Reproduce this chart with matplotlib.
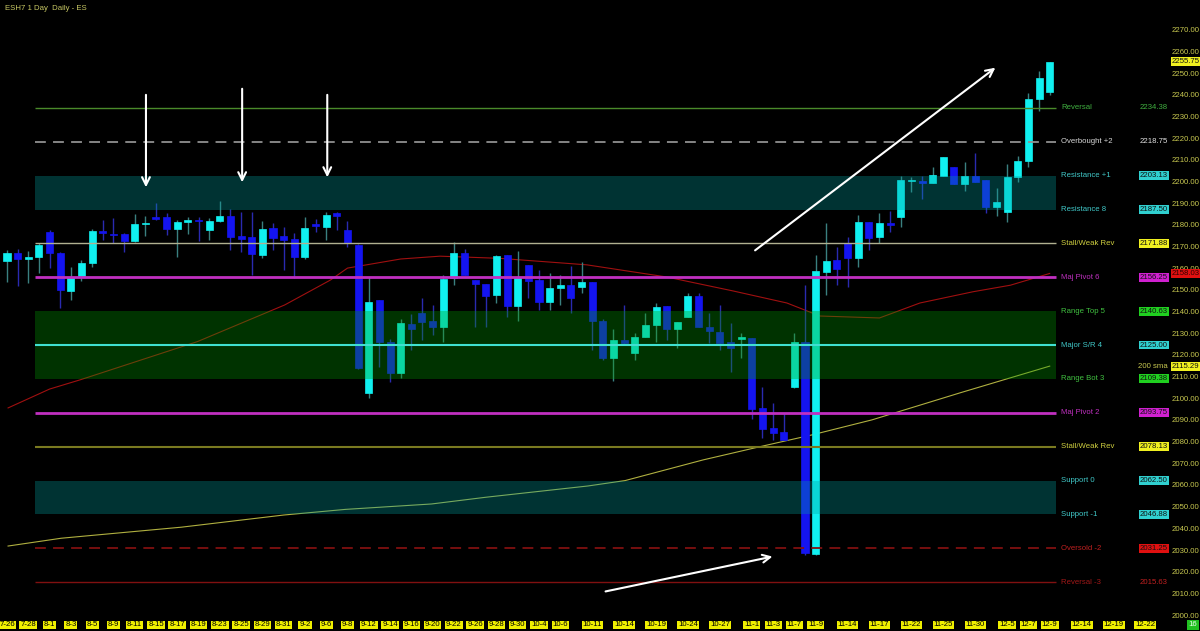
import matplotlib
matplotlib.use("Agg")
import matplotlib.pyplot as plt

plt.rcParams['font.family'] = ['Liberation Sans', 'DejaVu Sans']

# daily candles, ESH7, one row per trading day (index 0 = 7-26)
opens = [2163.9, 2167.3, 2164.5, 2165.5, 2177.3, 2167.6, 2150.1, 2156.9, 2163.0, 2177.6,
         2176.2, 2176.2, 2173.0, 2180.7, 2184.0, 2183.9, 2178.4, 2181.9, 2182.7, 2178.1,
         2182.2, 2184.5, 2175.3, 2174.7, 2166.5, 2178.8, 2175.3, 2173.8, 2165.5, 2180.9,
         2179.6, 2185.8, 2178.1, 2171.2, 2102.7, 2145.8, 2126.6, 2112.0, 2134.7, 2139.6,
         2136.3, 2133.5, 2155.8, 2167.6, 2155.0, 2153.2, 2148.1, 2166.5, 2143.0, 2161.9,
         2155.0, 2145.0, 2151.3, 2152.6, 2151.9, 2154.2, 2136.3, 2118.9, 2127.3, 2121.5,
         2128.9, 2134.3, 2143.0, 2132.2, 2137.8, 2147.6, 2133.5, 2131.2, 2126.6, 2127.7,
         2128.1, 2095.8, 2086.6, 2085.0, 2105.5, 2126.6, 2028.5, 2158.8, 2164.2, 2171.9,
         2165.0, 2181.9, 2174.7, 2181.5, 2184.2, 2200.8, 2200.5, 2199.6, 2203.0, 2207.3,
         2199.3, 2203.0, 2201.1, 2188.5, 2186.5, 2202.7, 2210.0, 2238.3, 2241.9]
highs = [2168.8, 2169.2, 2168.5, 2172.0, 2178.0, 2168.0, 2160.9, 2164.2, 2178.4, 2182.7,
         2183.5, 2176.5, 2185.5, 2184.5, 2190.7, 2185.8, 2182.7, 2184.2, 2184.2, 2183.5,
         2191.6, 2187.6, 2186.5, 2186.5, 2182.4, 2181.1, 2179.6, 2176.5, 2183.9, 2183.0,
         2186.5, 2186.5, 2182.4, 2171.5, 2156.5, 2146.0, 2128.0, 2137.0, 2139.3, 2146.6,
         2143.5, 2157.3, 2172.7, 2169.2, 2155.0, 2153.2, 2166.5, 2166.5, 2168.5, 2161.9,
         2159.6, 2158.1, 2157.3, 2161.4, 2163.5, 2154.2, 2137.0, 2132.2, 2143.5, 2130.4,
         2139.6, 2144.6, 2143.0, 2135.8, 2148.9, 2148.9, 2139.6, 2143.5, 2135.0, 2130.4,
         2128.1, 2105.8, 2098.4, 2093.5, 2130.7, 2152.7, 2166.5, 2181.1, 2170.4, 2175.0,
         2185.0, 2181.9, 2185.8, 2187.0, 2203.0, 2202.7, 2203.0, 2207.3, 2211.6, 2207.3,
         2209.6, 2213.7, 2201.1, 2197.3, 2208.5, 2212.2, 2241.1, 2251.6, 2255.75]
lows = [2154.2, 2152.2, 2153.8, 2158.1, 2160.4, 2141.9, 2145.8, 2154.7, 2160.9, 2173.5,
        2172.2, 2168.1, 2172.7, 2175.3, 2182.9, 2175.8, 2165.8, 2176.2, 2173.1, 2173.5,
        2181.8, 2168.8, 2168.1, 2157.3, 2165.0, 2168.8, 2159.6, 2155.8, 2164.5, 2177.3,
        2173.5, 2178.0, 2170.1, 2114.0, 2100.4, 2115.0, 2108.0, 2110.0, 2122.7, 2127.3,
        2129.6, 2126.6, 2152.7, 2157.3, 2133.5, 2133.5, 2144.2, 2138.1, 2136.3, 2146.6,
        2141.2, 2141.2, 2143.5, 2139.6, 2148.9, 2122.7, 2118.0, 2108.6, 2125.5, 2118.1,
        2128.9, 2126.6, 2127.3, 2123.5, 2137.8, 2133.2, 2125.8, 2122.7, 2112.7, 2118.9,
        2091.0, 2082.0, 2081.2, 2081.2, 2105.0, 2028.2, 2028.2, 2148.1, 2152.7, 2151.9,
        2161.2, 2168.8, 2171.9, 2177.3, 2179.3, 2195.7, 2192.2, 2199.6, 2203.0, 2199.3,
        2196.2, 2200.4, 2185.8, 2184.5, 2181.9, 2200.4, 2207.0, 2233.1, 2240.3]
closes = [2167.3, 2164.5, 2165.5, 2171.2, 2167.3, 2150.4, 2156.2, 2163.0, 2177.6, 2176.5,
          2175.6, 2173.0, 2180.7, 2181.5, 2183.0, 2178.4, 2181.8, 2182.7, 2182.2, 2182.4,
          2184.5, 2175.0, 2174.1, 2167.0, 2178.5, 2174.5, 2173.5, 2165.5, 2179.2, 2180.0,
          2185.0, 2184.5, 2172.2, 2114.3, 2145.0, 2126.6, 2112.0, 2135.0, 2132.2, 2135.8,
          2133.2, 2155.5, 2167.6, 2157.3, 2153.2, 2147.6, 2166.1, 2143.0, 2156.2, 2154.7,
          2145.0, 2151.3, 2152.6, 2146.6, 2154.2, 2136.3, 2118.9, 2127.3, 2126.1, 2128.9,
          2134.3, 2142.7, 2132.2, 2135.8, 2147.6, 2133.2, 2131.4, 2126.1, 2123.5, 2128.9,
          2095.4, 2086.1, 2084.3, 2081.2, 2126.6, 2029.0, 2159.3, 2163.9, 2159.9, 2165.0,
          2181.9, 2174.2, 2181.5, 2180.4, 2201.1, 2201.3, 2199.7, 2203.4, 2211.6, 2199.3,
          2203.0, 2200.4, 2188.5, 2191.1, 2202.7, 2210.0, 2238.3, 2248.0, 2255.75]

# moving averages (bar index, price)
sma50_idx = [0.1, 4, 6.9, 17.9, 26.1, 30.4, 32, 37, 40.7, 46.3, 54.5, 62, 68.2, 73.3, 76.4,
             82, 85.8, 90.8, 94.3, 98]
sma50_val = [2096, 2104.7, 2109, 2126.6, 2143.5, 2155, 2160.5, 2164.7, 2166, 2165, 2162,
             2156.4, 2150, 2144.4, 2138.4, 2137.5, 2144.4, 2149.6, 2152.6, 2158.03]
sma200_idx = [0.1, 5.1, 16.4, 26, 31.8, 39.9, 45, 54.6, 58.1, 65.4, 71.1, 75.6, 81.3, 89.6, 98]
sma200_val = [2032.3, 2035.9, 2041, 2046.6, 2049.2, 2051.7, 2054.8, 2060, 2062.5, 2072,
              2078.5, 2083.5, 2090.5, 2103, 2115.29]

# levels
level_names = ['Reversal', 'Overbought +2', 'Resistance +1', 'Resistance 8', 'Stall/Weak Rev',
               'Maj Pivot 6', 'Range Top 5', 'Major S/R 4', 'Range Bot 3', 'Maj Pivot 2',
               'Stall/Weak Rev', 'Support 0', 'Support -1', 'Oversold -2', 'Reversal -3']
level_values = [2234.38, 2218.75, 2203.13, 2187.50, 2171.88, 2156.25, 2140.63, 2125.00,
                2109.38, 2093.75, 2078.13, 2062.50, 2046.88, 2031.25, 2015.63]

tick_idx = [0, 2, 4, 6, 8, 10, 12, 14, 16, 18, 20, 22, 24, 26, 28, 30, 32, 34, 36, 38, 40, 42,
            44, 46, 48, 50, 52, 55, 58, 61, 64, 67, 70, 72, 74, 76, 79, 82, 85, 88, 91, 94,
            96, 98, 101, 104, 107]
tick_labels = ['7-26', '7-28', '8-1', '8-3', '8-5', '8-9', '8-11', '8-15', '8-17', '8-19',
               '8-23', '8-25', '8-29', '8-31', '9-2', '9-6', '9-8', '9-12', '9-14', '9-16',
               '9-20', '9-22', '9-26', '9-28', '9-30', '10-4', '10-6', '10-11', '10-14',
               '10-19', '10-24', '10-27', '11-1', '11-3', '11-7', '11-9', '11-14', '11-17',
               '11-22', '11-25', '11-30', '12-5', '12-7', '12-9', '12-14', '12-19', '12-22']

last_price = 2255.75
sma50_last = 2158.03
sma200_last = 2115.29

# ---------------------------------------------------------------
W, H = 1200, 631
PX = 10.64  # pixels per bar


def xd(p):
    return (p - 7) / PX


fig = plt.figure(figsize=(W / 100, H / 100), dpi=100, facecolor='black')
ax = fig.add_axes([0, 0, 1, 1])
ax.set_facecolor('black')
ax.set_xlim(xd(0), xd(W))
ax.set_ylim(2270 - (H - 30.7) / 2.168, 2270 + 30.7 / 2.168)
for s in ax.spines.values():
    s.set_visible(False)
ax.set_xticks([])
ax.set_yticks([])

# moving averages
ax.plot(sma50_idx, sma50_val, color='#a01010', lw=0.8, zorder=1)
ax.plot(sma200_idx, sma200_val, color='#b0b040', lw=0.8, zorder=1)

# candles
for i in range(len(opens)):
    o, h, l, c = opens[i], highs[i], lows[i], closes[i]
    up = c >= o
    body = '#10f0f0' if up else '#1414f0'
    wick = '#3a8080' if up else '#2a2ab0'
    ax.vlines(i, l, h, color=wick, lw=1, zorder=2)
    ax.bar(i, max(abs(c - o), 0.3), bottom=min(o, c), width=0.66, color=body,
           edgecolor=body, lw=0.5, zorder=3)

x0, x1 = xd(35), xd(1056)

# shaded zones drawn over candles
ax.fill_between([x0, x1], 2187.50, 2203.13, color='#00a0a0', alpha=0.32, lw=0, zorder=4)
ax.fill_between([x0, x1], 2046.88, 2062.50, color='#00a0a0', alpha=0.32, lw=0, zorder=4)
ax.fill_between([x0, x1], 2109.38, 2140.63, color='#00a000', alpha=0.32, lw=0, zorder=4)

line_style = {
    0: dict(color='#4a8a2a', lw=1, ls='-'),
    1: dict(color='#909090', lw=1.3, ls=(0, (6, 4))),
    4: dict(color='#b0b090', lw=1, ls='-'),
    5: dict(color='#c030c0', lw=2, ls='-'),
    7: dict(color='#40e0d0', lw=1.5, ls='-'),
    9: dict(color='#c030c0', lw=2, ls='-'),
    10: dict(color='#7a7a20', lw=1.5, ls='-'),
    13: dict(color='#801010', lw=1.3, ls=(0, (6, 4))),
    14: dict(color='#801010', lw=1, ls='-'),
}
for k, st in line_style.items():
    ax.hlines(level_values[k], x0, x1, zorder=5, **st)

name_colors = ['#40b040', '#d8d8d8', '#40c8c8', '#40c8c8', '#d0d040', '#c030c0', '#40c040',
               '#40c8c8', '#40c040', '#c030c0', '#d0d040', '#40c8c8', '#40c8c8', '#c02020',
               '#a01818']
box_colors = [None, None, '#30d0d0', '#30d0d0', '#f0f020', '#d020d0', '#20d020', '#30d0d0',
              '#20d020', '#d020d0', '#f0f020', '#30d0d0', '#30d0d0', '#e01010', None]
plain_colors = {0: '#40b040', 1: '#e0e0e0', 14: '#c02020'}

fs = 5.6
for k, (name, v) in enumerate(zip(level_names, level_values)):
    ax.text(xd(1061), v, name, color=name_colors[k], fontsize=fs, va='center', ha='left',
            zorder=6)
    if box_colors[k] is None:
        ax.text(xd(1168), v, '%.2f' % v, color=plain_colors[k], fontsize=fs, va='center',
                ha='right', zorder=6)
    else:
        ax.text(xd(1168), v, '%.2f' % v, color='#101010', fontsize=fs, va='center',
                ha='right', zorder=6,
                bbox=dict(boxstyle='square,pad=0.12', fc=box_colors[k], ec='none'))

# right price scale
for v in range(2000, 2271, 10):
    ax.text(xd(1172), v, '%.2f' % v, color='#c8c850', fontsize=fs, va='center', ha='left',
            zorder=6)

ax.text(xd(1168), sma200_last, '200 sma', color='#c8c850', fontsize=fs, va='center',
        ha='right', zorder=7)
for v, bg, fg in [(last_price, '#f0f020', '#101010'), (sma50_last, '#e01010', '#300000'),
                  (sma200_last, '#f0f020', '#101010')]:
    ax.text(xd(1172), v, '%.2f' % v, color=fg, fontsize=fs, va='center', ha='left',
            zorder=8, bbox=dict(boxstyle='square,pad=0.12', fc=bg, ec='none'))

# date labels
tr = ax.get_xaxis_transform()
for i, lab in zip(tick_idx, tick_labels):
    ax.text(i, 1 - 625 / H, lab, transform=tr, color='black', fontsize=fs, ha='center',
            va='center', zorder=8,
            bbox=dict(boxstyle='square,pad=0.12', fc='#f0f000', ec='none'))
ax.text(xd(1193), 1 - 625 / H, '16', transform=tr, color='#e8ffe8', fontsize=fs,
        ha='center', va='center', zorder=8,
        bbox=dict(boxstyle='square,pad=0.25', fc='#20c020', ec='none'))

# title
ax.text(5 / W, 1 - 5 / H, 'ESH7 1 Day  Daily - ES', transform=ax.transAxes, color='#c8c864',
        fontsize=fs, ha='left', va='top')

# hand drawn arrows
arrow = dict(arrowstyle='->', color='white', lw=1.5, mutation_scale=14)
for xi, ya, yb in [(13.06, 2241.7, 2196.5), (22.1, 2244.5, 2198.8), (30.1, 2241.7, 2201.1)]:
    ax.annotate('', xy=(xi, yb), xytext=(xi, ya), arrowprops=arrow, zorder=9)
ax.annotate('', xy=(93.1, 2253.7), xytext=(70.1, 2167.9), arrowprops=arrow, zorder=9)
ax.annotate('', xy=(72.2, 2027.7), xytext=(56.0, 2011.1), arrowprops=arrow, zorder=9)

fig.savefig('out.png', dpi=100, facecolor='black')
